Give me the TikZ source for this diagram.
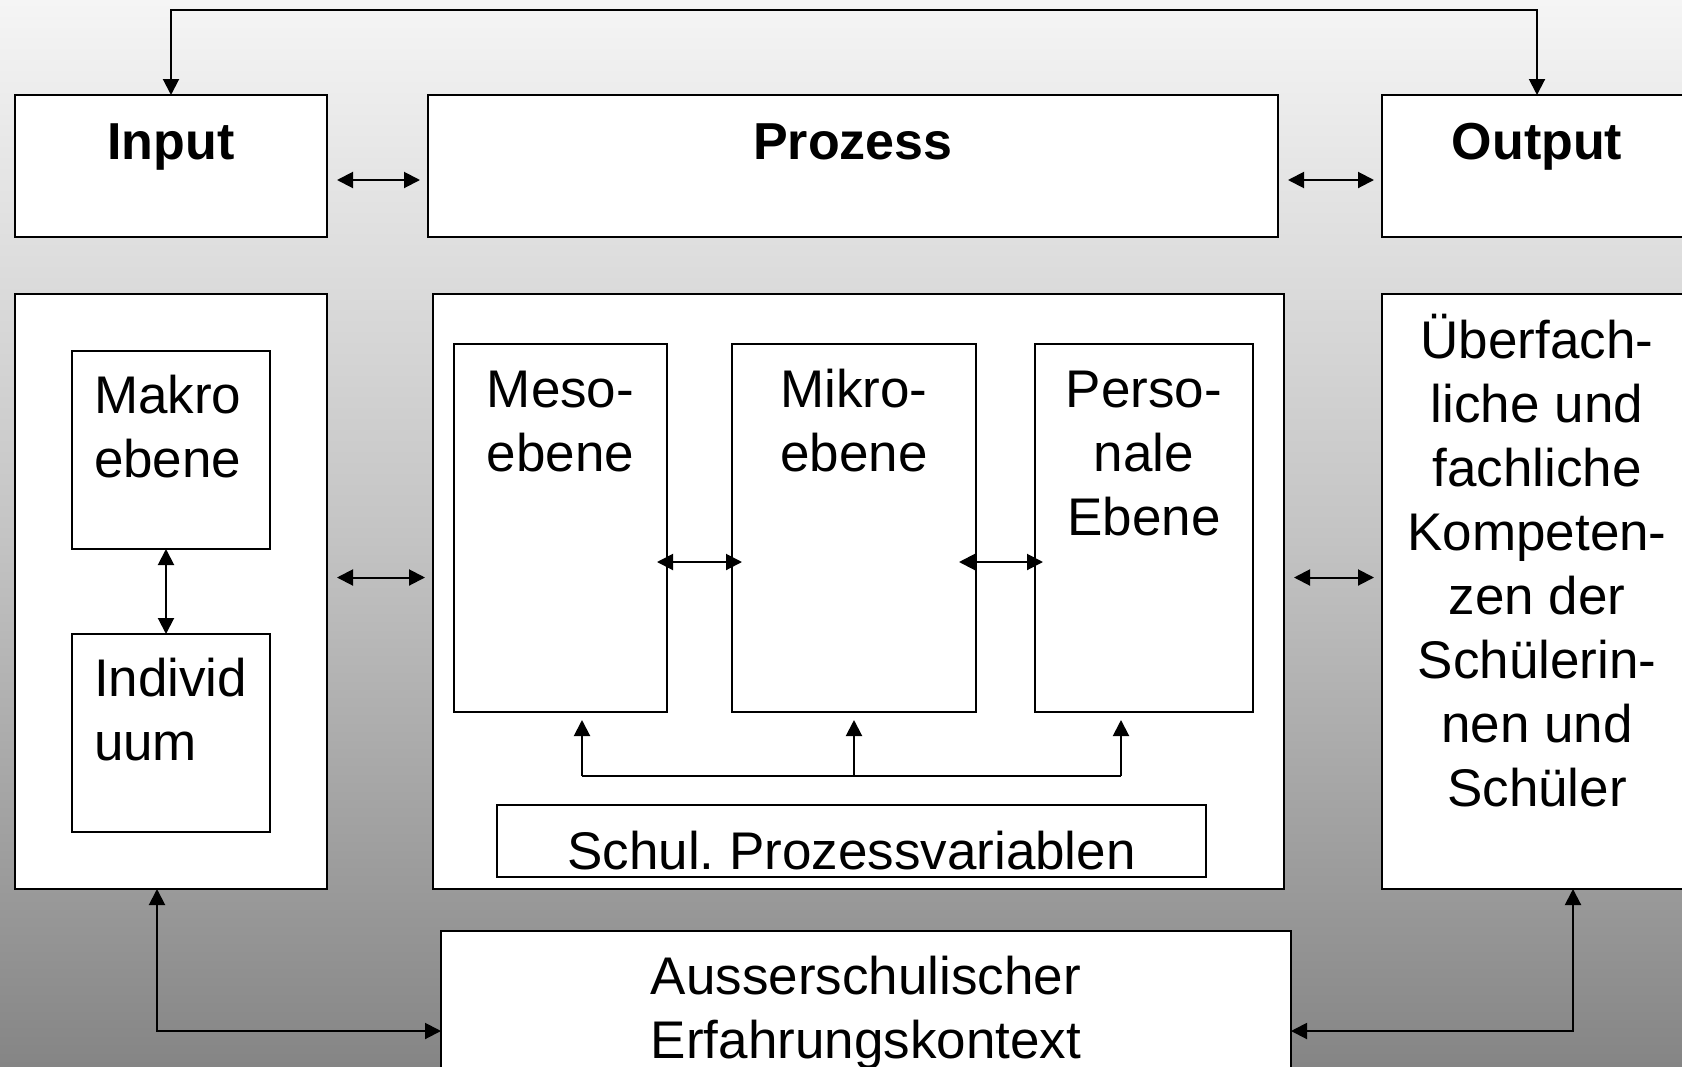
\documentclass[tikz,border=0pt]{standalone}
\usepackage{fontspec}
\setmainfont{Liberation Sans}
\usetikzlibrary{arrows.meta, positioning}

\definecolor{bgtop}{HTML}{F5F5F5}
\definecolor{bgmid}{HTML}{C4C4C4}
\definecolor{bgbot}{HTML}{858585}

\begin{document}
\begin{tikzpicture}[
            x = 1pt, y = 1pt, % work in points
            > = {Triangle[length=16pt, width=16pt]}, % arrow head style
            line width = 2pt, % line style
            node distance = 100pt
        ]

        \tikzstyle{box}=[
            draw = black,
            fill = white,
            rectangle,
            inner sep = 0pt,
            outer sep = 0pt,
            anchor = north west
        ]
        % multi-line text sits on the baseline of its last line
        \tikzstyle{head}=[font = \fontsize{52}{64}\selectfont\bfseries, anchor = base, inner sep = 0pt]
        \tikzstyle{txt}=[font = \fontsize{53}{64}\selectfont, align = center, anchor = base, inner sep = 0pt]
        \tikzstyle{link}=[<->, shorten < = 10pt, shorten > = 8pt]

        % background
        \useasboundingbox (0,0) rectangle (1682,-1066);
        \shade[top color = bgtop, bottom color = bgbot, middle color = bgmid] (0,0) rectangle (1682,-1066);

	% top row
	\node[box, minimum width=312pt, minimum height=142pt] (input) at (15,-95) {};
	\node[box, minimum width=850pt, minimum height=142pt, right=101pt of input] (prozess) {};
	\node[box, minimum width=310pt, minimum height=142pt, right=104pt of prozess] (output) {};

	% second row
	\node[box, minimum width=312pt, minimum height=595pt, below=57pt of input] (inpbody) {};
	\node[box, minimum width=851pt, minimum height=595pt, right=106pt of inpbody] (procbody) {};
	\node[box, minimum width=310pt, minimum height=595pt, right=98pt of procbody] (outbody) {};

	\node[box, minimum size=198pt] (makro) at (72,-351) {};
	\node[box, minimum size=198pt, below=85pt of makro] (individ) {};
	\node[box, minimum width=213pt, minimum height=368pt] (meso) at (454,-344) {};
	\node[box, minimum width=244pt, minimum height=368pt, right=65pt of meso] (mikro) {};
	\node[box, minimum width=218pt, minimum height=368pt, right=59pt of mikro] (perso) {};
	\node[box, minimum width=709pt, minimum height=72pt] (schul) at (497,-805) {};
	\node[box, minimum width=850pt, minimum height=200pt] (aussen) at (441,-931) {};

	% labels
	\node[head] (input-t) at ([yshift=-64pt]input.north) {Input};
	\node[head] (prozess-t) at ([yshift=-64pt]prozess.north) {Prozess};
	\node[head] (output-t) at ([yshift=-64pt]output.north) {Output};
	\node[txt, align=left, anchor=base west] (makro-t) at (93,-477) {Makro\\ebene};
	\node[txt, align=left, anchor=base west] (individ-t) at (93,-760) {Individ\\uum};
	\node[txt] (meso-t) at ([yshift=-127pt]meso.north) {Meso-\\ebene};
	\node[txt] (mikro-t) at ([yshift=-127pt]mikro.north) {Mikro-\\ebene};
	\node[txt] (perso-t) at ([yshift=-191pt]perso.north) {Perso-\\nale\\Ebene};
	\node[txt] (outbody-t) at ([yshift=-512pt]outbody.north)
	    {Überfach-\\liche und\\fachliche\\Kompeten-\\zen der\\Schülerin-\\nen und\\Schüler};
	\node[txt] (schul-t) at ([yshift=-64pt]schul.north) {Schul.\ Prozessvariablen};
	\node[txt] (aussen-t) at ([yshift=-127pt]aussen.north) {Ausserschulischer\\Erfahrungskontext};

	% feedback from input to output
	\coordinate (loop) at (0,-10);
	\path[<->] (input.north) edge[to path={-- (\tikztostart |- loop) -| (\tikztotarget)}] (output.north);

	\draw[link] ([yshift=-14pt]input.east) -- ([yshift=-14pt]prozess.west);
	\draw[link] ([yshift=-14pt]prozess.east) -- ([yshift=-14pt]output.west);
	\draw[link] ([yshift=14pt]inpbody.east) -- ([yshift=14pt]procbody.west);
	\draw[link] ([yshift=14pt]procbody.east) -- ([yshift=14pt]outbody.west);

	\draw[<->] ([xshift=-5pt]makro.south) -- ([xshift=-5pt]individ.north);
	\draw[<->, shorten < = -10pt, shorten > = -10pt] ([yshift=-34pt]meso.east) -- ([yshift=-34pt]mikro.west);
	\draw[<->, shorten < = -17pt, shorten > = -8pt] ([yshift=-34pt]mikro.east) -- ([yshift=-34pt]perso.west);

	% process variables feed the three levels
	\coordinate (bus-l) at (582,-776);
	\coordinate (bus-r) at (1121,-776);
	\draw (bus-l) -- (bus-r);
	\draw[->, shorten > = 8pt] (bus-l) -- (bus-l |- meso.south);
	\draw[->, shorten > = 8pt] (mikro.south |- bus-l) -- (mikro.south);
	\draw[->, shorten > = 8pt] (bus-r) -- (bus-r |- perso.south);

	% outside experience
	\draw[<->] ([xshift=-14pt]inpbody.south) |- (aussen.west);
	\draw[<->] ([xshift=36pt]outbody.south) |- (aussen.east);

    \end{tikzpicture}
\end{document}
